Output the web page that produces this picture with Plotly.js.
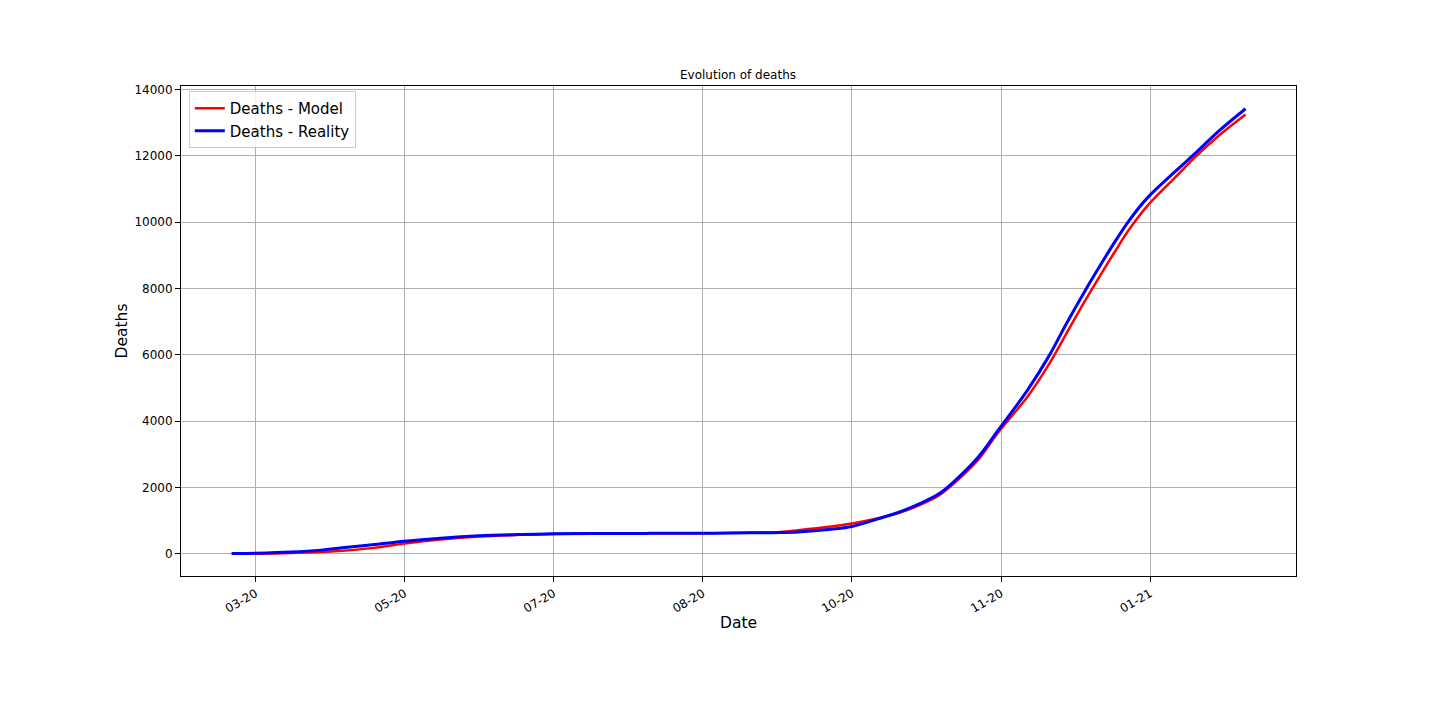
<!DOCTYPE html>
<html>
<head>
<meta charset="utf-8">
<script src="https://cdn.plot.ly/plotly-3.0.1.min.js"></script>
<style>
  html, body { margin: 0; padding: 0; background: #fff; }
  #grafico { width: 1440px; height: 720px; }
</style>
</head>
<body>
<div id="grafico"></div>
<script>
// fechas de muestreo
const fechas = [
  '2020-03-16', '2020-03-24', '2020-04-05', '2020-04-15', '2020-04-22', '2020-05-02',
  '2020-05-13', '2020-05-25', '2020-06-07', '2020-06-21', '2020-07-02', '2020-07-17',
  '2020-08-03', '2020-08-21', '2020-09-06', '2020-09-16', '2020-09-22', '2020-10-03',
  '2020-10-10', '2020-10-19', '2020-10-26', '2020-11-02', '2020-11-08', '2020-11-12',
  '2020-11-21', '2020-11-28', '2020-12-08', '2020-12-15', '2020-12-21', '2020-12-27',
  '2021-01-02', '2021-01-06', '2021-01-11', '2021-01-17', '2021-01-27', '2021-02-02',
  '2021-02-10', '2021-02-19'
];

const muertesModelo = [
  0, 5, 20, 50, 90, 170,
  310, 430, 520, 570, 595, 610,
  615, 620, 635, 660, 710, 820,
  910, 1080, 1240, 1480, 1750, 2030,
  2800, 3650, 4750, 5700, 6650, 7600,
  8500, 9080, 9780, 10480, 11400, 11950,
  12600, 13240
];

const muertesReales = [
  5, 15, 50, 110, 180, 270,
  380, 470, 540, 580, 600, 610,
  615, 620, 630, 640, 660, 740,
  820, 1060, 1260, 1520, 1800, 2080,
  2880, 3720, 4950, 5950, 6950, 7900,
  8800, 9380, 10050, 10720, 11570, 12060,
  12740, 13415
];

const fuente = 'DejaVu Sans, Liberation Sans, sans-serif';
const DIA = 86400000;

const data = [
  {
    x: fechas,
    y: muertesModelo,
    mode: 'lines',
    type: 'scatter',
    name: 'Deaths - Model',
    line: { color: '#ff0000', width: 2.5, shape: 'spline', smoothing: 1 }
  },
  {
    x: fechas,
    y: muertesReales,
    mode: 'lines',
    type: 'scatter',
    name: 'Deaths - Reality',
    line: { color: '#0000ff', width: 3, shape: 'spline', smoothing: 1 }
  }
];

const layout = {
  width: 1440,
  height: 720,
  paper_bgcolor: '#fff',
  plot_bgcolor: '#fff',
  font: { family: fuente, color: '#000', size: 12 },
  margin: { l: 181, r: 144, t: 86, b: 144 },
  showlegend: true,
  title: {
    text: 'Evolution of deaths',
    font: { size: 12, color: '#000' },
    x: 0.5125, xanchor: 'center',
    yref: 'container', y: 1 - 75 / 720, yanchor: 'middle'
  },
  xaxis: {
    type: 'date',
    range: ['2020-02-28 00:00', '2021-03-07 22:00'],
    tick0: '2020-03-24',
    dtick: 50 * DIA,
    tickformat: '%m-%y',
    tickangle: -30,
    ticks: 'outside', ticklen: 5, tickcolor: '#000', tickwidth: 1,
    showgrid: true, gridcolor: '#b0b0b0', gridwidth: 1,
    showline: true, linecolor: '#000', linewidth: 1, mirror: true,
    zeroline: false,
    automargin: false,
    title: { text: 'Date', font: { size: 15.5 }, standoff: 2 }
  },
  yaxis: {
    range: [-670, 14100],
    dtick: 2000,
    tick0: 0,
    tickformat: 'd',
    ticks: 'outside', ticklen: 5, tickcolor: '#000', tickwidth: 1,
    showgrid: true, gridcolor: '#b0b0b0', gridwidth: 1,
    showline: true, linecolor: '#000', linewidth: 1, mirror: true,
    zeroline: false,
    automargin: false,
    title: { text: 'Deaths', font: { size: 15.5 }, standoff: 2 }
  },
  legend: {
    x: 0.007, y: 0.99, xanchor: 'left', yanchor: 'top',
    bgcolor: 'rgba(255,255,255,0.8)',
    bordercolor: '#cccccc', borderwidth: 1,
    font: { size: 15, color: '#000' },
    itemwidth: 30
  }
};

Plotly.newPlot('grafico', data, layout, { displayModeBar: false, staticPlot: true });
</script>
</body>
</html>
